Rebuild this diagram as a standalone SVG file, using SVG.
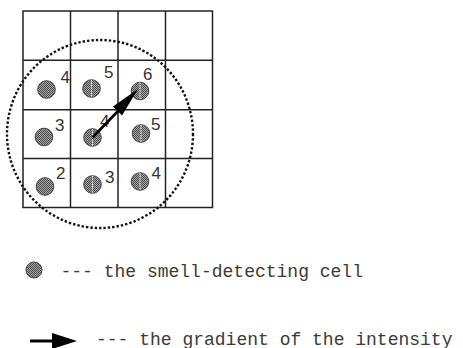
<svg xmlns="http://www.w3.org/2000/svg" width="463" height="348" viewBox="0 0 463 348">
<defs>
<pattern id="stip" width="2" height="2" patternUnits="userSpaceOnUse">
<rect width="2" height="2" fill="#a8a8a8"/>
<rect width="1" height="1" fill="#4a4a4a"/>
<rect x="1" y="1" width="1" height="1" fill="#4a4a4a"/>
</pattern>
</defs>
<style>
.grid{fill:none;stroke:#222;stroke-width:1.5}
.cell{fill:url(#stip);stroke:#444;stroke-width:1}
.mid{stroke:#fff;stroke-width:1;stroke-dasharray:1.5 1}
.num{font-family:"Liberation Sans",Arial,sans-serif;font-size:17px;fill:#333}
.leg{font-family:"Liberation Mono","Courier New",monospace;font-size:18px;fill:#3a3a3a}
.range{fill:none;stroke:#111;stroke-width:2.4;stroke-dasharray:2.4 2}
</style>
<rect width="463" height="348" fill="#fff"/>
<g id="grid" class="grid">
<rect x="23" y="11" width="189.5" height="196.5"/>
<line x1="70.5" y1="11" x2="70.5" y2="207.5"/>
<line x1="118" y1="11" x2="118" y2="207.5"/>
<line x1="165.5" y1="11" x2="165.5" y2="207.5"/>
<line x1="23" y1="60.3" x2="212.5" y2="60.3"/>
<line x1="23" y1="109.7" x2="212.5" y2="109.7"/>
<line x1="23" y1="158.5" x2="212.5" y2="158.5"/>
</g>
<g id="range"><ellipse class="range" cx="100" cy="134" rx="93" ry="94"/></g>
<g id="cell-r1c1"><circle class="cell" cx="46.5" cy="89.5" r="8.8"/><text class="num" x="60.5" y="83">4</text></g>
<g id="cell-r1c2"><circle class="cell" cx="91.5" cy="88.5" r="8.8"/><line class="mid" x1="91.5" y1="80" x2="91.5" y2="97"/><text class="num" x="104" y="77.5">5</text></g>
<g id="cell-r1c3"><circle class="cell" cx="140" cy="91" r="8.8"/><line class="mid" x1="140" y1="82.5" x2="140" y2="99.5"/><text class="num" x="143" y="80">6</text></g>
<g id="cell-r2c1"><circle class="cell" cx="44" cy="137" r="8.8"/><text class="num" x="55" y="130.5">3</text></g>
<g id="cell-r2c2"><circle class="cell" cx="92.5" cy="137.5" r="8.8"/><line class="mid" x1="92.5" y1="129" x2="92.5" y2="146"/><text class="num" x="100" y="127">4</text></g>
<g id="cell-r2c3"><circle class="cell" cx="141" cy="133.5" r="8.8"/><line class="mid" x1="141" y1="125" x2="141" y2="142"/><text class="num" x="151" y="129.5">5</text></g>
<g id="cell-r3c1"><circle class="cell" cx="45" cy="186.5" r="8.8"/><text class="num" x="56" y="179">2</text></g>
<g id="cell-r3c2"><circle class="cell" cx="92.5" cy="184.5" r="8.8"/><line class="mid" x1="92.5" y1="176" x2="92.5" y2="193"/><text class="num" x="105" y="183">3</text></g>
<g id="cell-r3c3"><circle class="cell" cx="140" cy="181.5" r="8.8"/><line class="mid" x1="140" y1="173" x2="140" y2="190"/><text class="num" x="151.5" y="179">4</text></g>
<g id="connectors">
<line x1="92.5" y1="137.5" x2="119" y2="110" stroke="#000" stroke-width="2.6"/>
<polygon points="138,89 113,106.5 122,115.5" fill="#000"/>
</g>
<g id="legend-cell"><circle class="cell" cx="34" cy="270" r="8"/><text class="leg" x="60.5" y="276.5" xml:space="preserve">--- the smell-detecting cell</text></g>
<g id="legend-arrow">
<line x1="30" y1="341" x2="54" y2="341" stroke="#000" stroke-width="3"/>
<polygon points="52,333 77,341 52,349" fill="#000"/>
<text class="leg" x="96" y="344.5" xml:space="preserve">--- the gradient of the intensity</text>
</g>
</svg>
